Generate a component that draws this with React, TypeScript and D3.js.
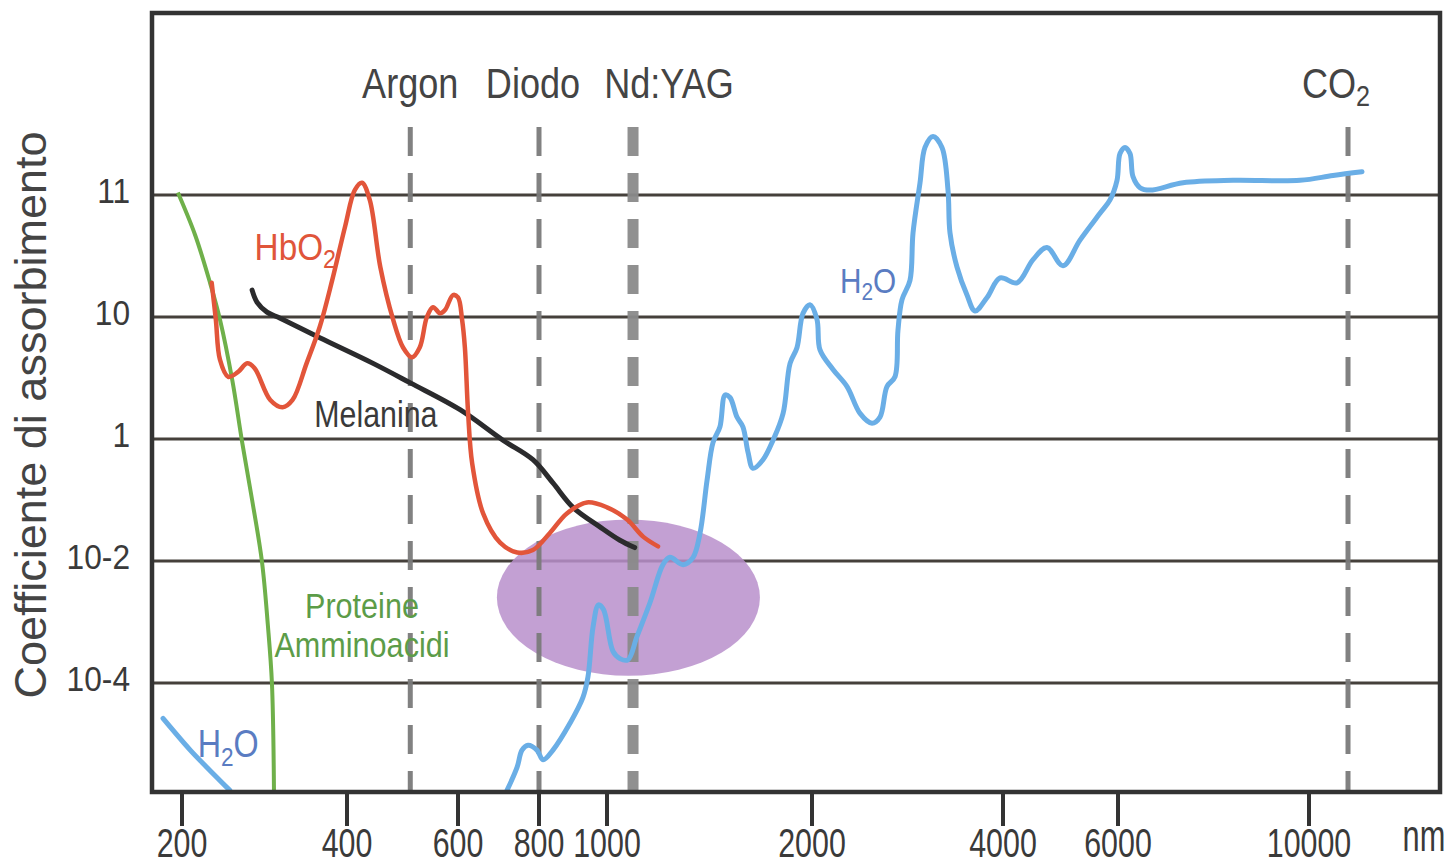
import * as d3 from 'd3'

// wavelength (nm) positions of the axis ticks
const xTicks = [200, 400, 600, 800, 1000, 2000, 4000, 6000, 10000]
// absorption "levels" as drawn, labelled top to bottom
const yLevels = [4, 3, 2, 1, 0]
const yLabels = ['11', '10', '1', '10-2', '10-4']

const lasers = [
  { name: 'Argon', nm: 514, thick: false, dx: 0 },
  { name: 'Diodo', nm: 800, thick: false, dx: -6 },
  { name: 'Nd:YAG', nm: 1127, thick: true, dx: 36 },
  { name: 'CO', sub: '2', nm: 10817, thick: false, dx: -12 },
]

// [nm, level]
const proteine = [
  [195, 4.02], [216, 3.67], [234, 3.28], [246, 2.98], [261, 2.48], [273, 1.97],
  [285, 1.5], [297, 0.99], [304, 0.48], [309, 0], [311.5, -0.89],
]

const hbo2 = [
  [236, 3.28], [241, 2.98], [246, 2.65], [256, 2.51], [268, 2.55], [279, 2.62],
  [288, 2.58], [307, 2.32], [322, 2.26], [334, 2.32], [351, 2.62], [367, 2.92],
  [382, 3.3], [398, 3.75], [414, 4.04], [427, 4.1], [441, 3.96], [460, 3.41],
  [483, 2.98], [501, 2.75], [517, 2.67], [531, 2.75], [544, 3.0], [555, 3.08],
  [568, 3.03], [577, 3.06], [591, 3.18], [600, 3.16], [610, 2.98], [617, 2.75],
  [625, 2.21], [635, 1.8], [662, 1.39], [704, 1.15], [746, 1.07], [785, 1.09],
  [832, 1.23], [882, 1.39], [941, 1.48], [1000, 1.44], [1098, 1.34], [1176, 1.2],
  [1249, 1.12],
]

const melanina = [
  [285, 3.22], [291, 3.12], [303, 3.04], [319, 2.99], [367, 2.83], [447, 2.62],
  [514, 2.46], [605, 2.24], [711, 1.99], [785, 1.83], [841, 1.64], [900, 1.44],
  [979, 1.28], [1063, 1.17], [1135, 1.11],
]

const h2oUv = [
  [177, -0.29], [210, -0.55], [230, -0.69], [258, -0.88],
]

const h2o = [
  [721, -0.88], [746, -0.69], [758, -0.55], [773, -0.51], [795, -0.55], [812, -0.63],
  [841, -0.55], [891, -0.33], [929, -0.12], [944, 0.05], [959, 0.46], [975, 0.64],
  [990, 0.6], [1029, 0.26], [1063, 0.2], [1102, 0.19], [1146, 0.38], [1210, 0.66],
  [1273, 0.97], [1307, 1.03], [1371, 0.97], [1420, 1.03], [1454, 1.23], [1488, 1.66],
  [1517, 1.97], [1551, 2.1], [1576, 2.36], [1600, 2.34], [1634, 2.18], [1663, 2.1],
  [1688, 1.89], [1712, 1.76], [1761, 1.83], [1810, 1.99], [1859, 2.21], [1893, 2.62],
  [1927, 2.75], [1956, 3.03], [1990, 3.1], [2052, 2.98], [2084, 2.73], [2220, 2.57],
  [2367, 2.43], [2503, 2.21], [2628, 2.13], [2712, 2.18], [2785, 2.43], [2869, 2.51],
  [2900, 2.89], [2942, 3.14], [3026, 3.3], [3058, 3.69], [3131, 4.1], [3183, 4.39],
  [3267, 4.48], [3361, 4.39], [3424, 4.04], [3445, 3.69], [3518, 3.41], [3623, 3.18],
  [3707, 3.05], [3833, 3.16], [3969, 3.32], [4244, 3.28], [4522, 3.47], [4765, 3.57],
  [5043, 3.42], [5339, 3.63], [5687, 3.85], [5861, 3.96], [5983, 4.12], [6042, 4.34],
  [6147, 4.39], [6251, 4.34], [6314, 4.15], [6461, 4.06], [6670, 4.04], [7361, 4.1],
  [8408, 4.12], [9812, 4.12], [10503, 4.16], [11110, 4.19],
]

// nm / level extents of the lavender "window" ellipse
const windowX = [696, 1746]
const windowY = [0.06, 1.34]

const W = 1455
const H = 867
const frame = { left: 152, right: 1440, top: 13, bottom: 792 }

// non-uniform wavelength axis, one knot per tick
const x = d3.scaleLinear()
  .domain(xTicks)
  .range([182, 347, 458, 539, 607, 812, 1003, 1118, 1309])
const y = d3.scaleLinear().domain([0, 4]).range([683, 195])

const line = d3.line<number[]>()
  .x(d => x(d[0]))
  .y(d => y(d[1]))
  .curve(d3.curveCatmullRom.alpha(0.5))

const font = '"Liberation Sans", Arial, Helvetica, sans-serif'

function Label({ nmv, lv, size, fill, text, sub, after, sx = 0.84, anchor = 'start' }: any) {
  return (
    <text transform={`translate(${x(nmv)},${y(lv)}) scale(${sx},1)`} fontSize={size} fill={fill}
      textAnchor={anchor} fontFamily={font}>
      {text}
      {sub && <tspan fontSize={size * 0.7} dy={size * 0.22}>{sub}</tspan>}
      {after && <tspan dy={-size * 0.22}>{after}</tspan>}
    </text>
  )
}

export default function App() {
  const ex = [x(windowX[0]), x(windowX[1])]
  const ey = [y(windowY[0]), y(windowY[1])]
  return (
    <svg width={W} height={H} style={{ position: 'absolute', left: 0, top: 0, background: '#fff' }}>
      <rect x={0} y={0} width={W} height={H} fill="#fff" />

      {/* grid */}
      {yLevels.map(l => (
        <line key={l} x1={frame.left} x2={frame.right} y1={y(l)} y2={y(l)} stroke="#45403b" strokeWidth={2.8} />
      ))}

      <ellipse cx={(ex[0] + ex[1]) / 2} cy={(ey[0] + ey[1]) / 2} rx={(ex[1] - ex[0]) / 2} ry={(ey[0] - ey[1]) / 2}
        fill="#b88fcb" fillOpacity={0.85} />

      {/* laser lines */}
      {lasers.map(d => (
        <g key={d.name}>
          <line x1={x(d.nm)} x2={x(d.nm)} y1={127} y2={frame.bottom}
            stroke={d.thick ? '#8a8a8a' : '#7a7a7a'} strokeWidth={d.thick ? 11 : 5}
            strokeDasharray="29 17" strokeOpacity={0.95} />
          <text transform={`translate(${x(d.nm) + d.dx},98) scale(0.84,1)`} textAnchor="middle"
            fontSize={43} fill="#444" fontFamily={font}>
            {d.name}
            {d.sub && <tspan fontSize={30} dy={8}>{d.sub}</tspan>}
          </text>
        </g>
      ))}

      {/* curves */}
      <path d={line(proteine as any) || ''} fill="none" stroke="#6fb04a" strokeWidth={4} />
      <path d={line(h2oUv as any) || ''} fill="none" stroke="#6aaee6" strokeWidth={5} strokeLinecap="round" />
      <path d={line(h2o as any) || ''} fill="none" stroke="#6aaee6" strokeWidth={5} strokeLinecap="round" strokeLinejoin="round" />
      <path d={line(melanina as any) || ''} fill="none" stroke="#2b2b2d" strokeWidth={5} strokeLinecap="round" />
      <path d={line(hbo2 as any) || ''} fill="none" stroke="#e2553a" strokeWidth={4.5} strokeLinecap="round" />

      {/* curve labels */}
      <Label nmv={288} lv={3.47} size={37} fill="#e0553a" text="HbO" sub="2" sx={0.9} />
      <Label nmv={452} lv={2.1} size={37} fill="#3a3a3a" text="Melanina" anchor="middle" sx={0.82} />
      <Label nmv={427} lv={0.53} size={36} fill="#5c9c48" text="Proteine" anchor="middle" sx={0.85} />
      <Label nmv={427} lv={0.21} size={36} fill="#5c9c48" text="Amminoacidi" anchor="middle" sx={0.85} />
      <Label nmv={219} lv={-0.61} size={38} fill="#5a7cc2" text="H" sub="2" after="O" sx={0.85} />
      <Label nmv={2293} lv={3.2} size={35} fill="#5a7cc2" text="H" sub="2" after="O" sx={0.85} />

      {/* frame */}
      <rect x={frame.left} y={frame.top} width={frame.right - frame.left} height={frame.bottom - frame.top}
        fill="none" stroke="#333" strokeWidth={4.5} />

      {/* x axis */}
      {xTicks.map(t => (
        <g key={t}>
          <line x1={x(t)} x2={x(t)} y1={frame.bottom} y2={826} stroke="#333" strokeWidth={4} />
          <text transform={`translate(${x(t)},857) scale(0.76,1)`} textAnchor="middle" fontSize={40}
            fill="#3a3a3a" fontFamily={font}>{t}</text>
        </g>
      ))}
      <text transform="translate(1424,851) scale(0.7,1)" textAnchor="middle" fontSize={44} fill="#3a3a3a"
        fontFamily={font}>nm</text>

      {/* y axis */}
      {yLevels.map((l, i) => (
        <text key={l} transform={`translate(130,${y(l) + 8}) scale(0.88,1)`} textAnchor="end" fontSize={36}
          fill="#3a3a3a" fontFamily={font}>{yLabels[i]}</text>
      ))}
      <text transform="translate(46,415) rotate(-90)" textAnchor="middle" fontSize={45} fill="#444"
        fontFamily={font}>Coefficiente di assorbimento</text>
    </svg>
  )
}
